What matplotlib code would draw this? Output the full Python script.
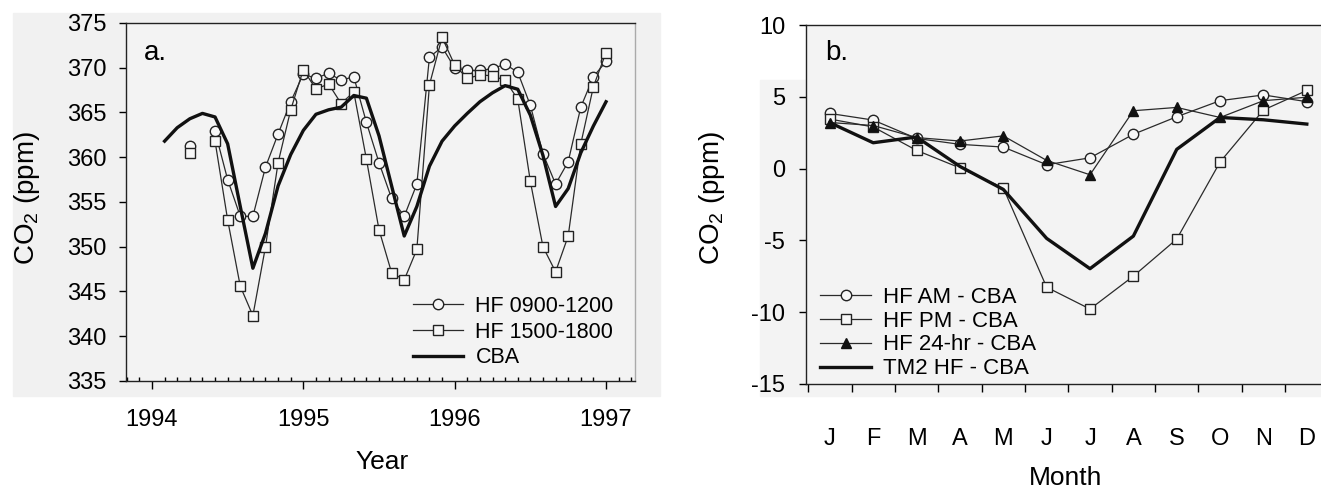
import numpy as np
import matplotlib
matplotlib.use("Agg")
import matplotlib.pyplot as plt
from matplotlib.patches import Rectangle
from matplotlib.ticker import MultipleLocator, FixedLocator

plt.rcParams['font.family'] = ['Liberation Sans', 'DejaVu Sans']
plt.rcParams['mathtext.fontset'] = 'custom'
plt.rcParams['mathtext.rm'] = 'Liberation Sans'
plt.rcParams['mathtext.it'] = 'Liberation Sans:italic'

# ---------------- Panel a data ----------------
# month index k: decimal year = 1994 + k/12
cba_k = list(range(1, 37))
cba_vals = [361.8, 363.3, 364.3, 364.9, 364.5, 361.5, 354.5, 347.6, 351.5, 356.8,
            360.3, 363.0, 364.8, 365.3, 365.6, 366.9, 366.6, 362.4, 356.8, 351.2,
            354.5, 359.0, 361.8, 363.5, 364.9, 366.2, 367.2, 368.0, 367.6, 364.7,
            360.2, 354.5, 356.5, 360.5, 363.5, 366.2]

hf_k = list(range(3, 37))
hf_am = [361.3, np.nan, 362.9, 357.5, 353.4, 353.4, 358.9, 362.6, 366.2, 369.3,
         368.8, 369.4, 368.6, 369.0, 363.9, 359.4, 355.4, 353.4, 357.0, 371.2,
         372.3, 370.0, 369.7, 369.7, 369.9, 370.4, 369.5, 365.8, 360.4, 357.0,
         359.5, 365.6, 369.0, 370.7]
hf_pm = [360.5, np.nan, 361.8, 353.0, 345.6, 342.3, 350.0, 359.4, 365.3, 369.8,
         367.6, 368.2, 366.0, 367.3, 359.8, 351.9, 347.1, 346.3, 349.7, 368.1,
         373.4, 370.3, 368.8, 369.2, 369.1, 368.6, 366.5, 357.3, 350.0, 347.2,
         351.2, 361.5, 367.9, 371.7]
year_ticks = [1994, 1995, 1996, 1997]

# ---------------- Panel b data ----------------
months = ['J', 'F', 'M', 'A', 'M', 'J', 'J', 'A', 'S', 'O', 'N', 'D']
am_cba = [3.84, 3.38, 2.1, 1.69, 1.5, 0.27, 0.75, 2.39, 3.61, 4.73, 5.13, 4.66]
pm_cba = [3.45, 2.9, 1.27, 0.05, -1.35, -8.26, -9.78, -7.49, -4.91, 0.46, 4.08, 5.44]
h24_cba = [3.21, 3.0, 2.16, 1.92, 2.28, 0.57, -0.43, 4.03, 4.26, 3.56, 4.73, 4.97]
tm2_cba = [3.2, 1.8, 2.2, 0.15, -1.45, -4.86, -6.97, -4.7, 1.34, 3.56, 3.4, 3.1]

W, H = 1321, 491
fig = plt.figure(figsize=(W / 100, H / 100), dpi=100)
fig.patch.set_facecolor('white')

# faint scanned-page background
fig.patches.append(Rectangle((13 / W, 1 - 396 / H), (660 - 13) / W, (396 - 13) / H,
                             transform=fig.transFigure, color='#f1f1f1', zorder=-10))
fig.patches.append(Rectangle((760 / W, 1 - 396 / H), (W - 760) / W, (396 - 80) / H,
                             transform=fig.transFigure, color='#f3f3f3', zorder=-10))

ax1 = fig.add_axes([126 / W, 1 - 381 / H, (635 - 126) / W, (381 - 23) / H])
ax2 = fig.add_axes([806 / W, 1 - 384 / H, (W - 806) / W, (384 - 25) / H])
for ax in (ax1, ax2):
    ax.set_facecolor('#f3f3f3')

line_kw = dict(color='#2a2a2a', lw=0.9)
mk_kw = dict(markersize=7.5, markerfacecolor='#f7f7f7', markeredgecolor='#222222',
             markeredgewidth=1.0)

# ---------- Panel a ----------
cba_x = [1994 + k / 12 for k in cba_k]
hf_x = [1994 + k / 12 for k in hf_k]
ax1.plot(hf_x, hf_am, marker='o', label='HF 0900-1200', **line_kw, **mk_kw)
ax1.plot(hf_x, hf_pm, marker='s', label='HF 1500-1800', **line_kw,
         **dict(mk_kw, markersize=7))
ax1.plot(cba_x, cba_vals, color='#111111', lw=2.4, label='CBA', zorder=3)

ax1.set_xlim(1994 - 26 / 151.5, 1997 + 29 / 151.5)
ax1.set_ylim(335, 375)
ax1.set_xticks(year_ticks)
ax1.set_xticklabels([str(y) for y in year_ticks])
ax1.xaxis.set_minor_locator(MultipleLocator(1 / 12))
ax1.set_yticks(np.arange(335, 376, 5))
ax1.tick_params(axis='x', which='major', direction='out', length=6, width=1,
                pad=14, labelsize=17)
ax1.tick_params(axis='x', which='minor', direction='in', length=3, width=1)
ax1.tick_params(axis='y', which='major', direction='out', length=5, width=1,
                pad=9, labelsize=17)
for s in ax1.spines.values():
    s.set_color('#222222')
    s.set_linewidth(1.0)
ax1.spines['right'].set_color('#aaaaaa')

ax1.text((144 - 126) / 509, (381 - 53) / 358, 'a.', transform=ax1.transAxes,
         ha='left', va='center', fontsize=20)
leg1 = ax1.legend(loc='center left', bbox_to_anchor=((413 - 126) / 509, (381 - 332) / 358),
                  frameon=False, fontsize=15.5, handlelength=2.3, handletextpad=0.6,
                  labelspacing=0.22, borderpad=0, borderaxespad=0, numpoints=1)

# ---------- Panel b ----------
mx = np.arange(len(months))
ax2.plot(mx, am_cba, marker='o', label='HF AM - CBA', **line_kw, **mk_kw)
ax2.plot(mx, pm_cba, marker='s', label='HF PM - CBA', **line_kw,
         **dict(mk_kw, markersize=7))
ax2.plot(mx, h24_cba, marker='^', label='HF 24-hr - CBA', color='#2a2a2a', lw=0.9,
         markersize=7, markerfacecolor='#111111', markeredgecolor='#111111')
ax2.plot(mx, tm2_cba, color='#111111', lw=2.4, label='TM2 HF - CBA', zorder=3)

ax2.set_xlim(-0.55, -0.55 + (W - 806) / 43.36)
ax2.set_ylim(-15, 10)
ax2.set_xticks(mx)
ax2.set_xticklabels(months)
ax2.xaxis.set_minor_locator(FixedLocator(np.arange(-0.5, 11.6, 1.0)))
ax2.set_yticks(np.arange(-15, 11, 5))
ax2.set_yticklabels(['-15', '-10', '-5', '0', '5', '10'])
ax2.tick_params(axis='x', which='major', length=0, pad=32, labelsize=17)
ax2.tick_params(axis='x', which='minor', direction='out', length=6, width=1)
ax2.tick_params(axis='y', which='major', direction='out', length=5, width=1,
                pad=10, labelsize=17)
for s in ax2.spines.values():
    s.set_color('#222222')
    s.set_linewidth(1.0)
ax2.spines['right'].set_visible(False)

ax2.text((825 - 806) / 515, (384 - 53) / 359, 'b.', transform=ax2.transAxes,
         ha='left', va='center', fontsize=20)
leg2 = ax2.legend(loc='center left', bbox_to_anchor=((820 - 806) / 515, (384 - 333) / 359),
                  frameon=False, fontsize=16, handlelength=2.3, handletextpad=0.55,
                  labelspacing=0.13, borderpad=0, borderaxespad=0, numpoints=1)

# axis labels
fig.text(27 / W, 1 - 198 / H, 'CO$_2$ (ppm)', rotation=90, ha='center', va='center',
         fontsize=20)
fig.text(712 / W, 1 - 198 / H, 'CO$_2$ (ppm)', rotation=90, ha='center', va='center',
         fontsize=20)
fig.text(382 / W, 1 - 462 / H, 'Year', ha='center', va='center', fontsize=19)
fig.text(1066 / W, 1 - 478 / H, 'Month', ha='center', va='center', fontsize=19)

fig.savefig('out.png', dpi=100)
